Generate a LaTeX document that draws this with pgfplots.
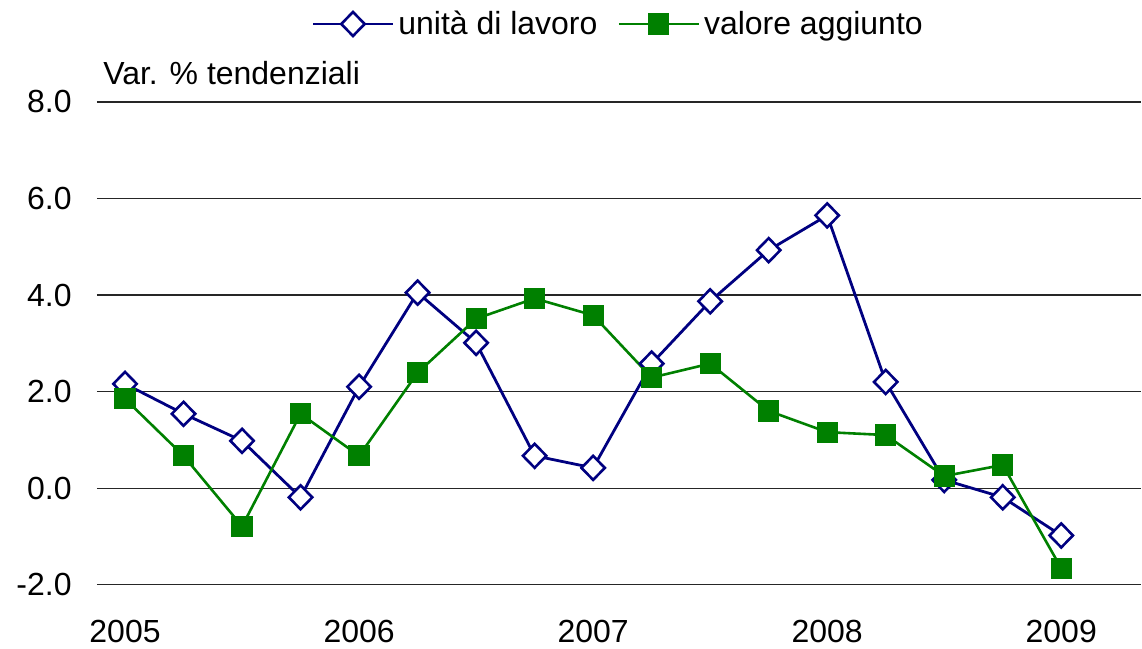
\documentclass[border=0pt]{standalone}
\usepackage{pgfplots}
\pgfplotsset{compat=1.18}
\usepackage{fontspec}
\setmainfont{Liberation Sans}
\definecolor{navyb}{HTML}{000080}
\definecolor{greenv}{HTML}{008000}
\begin{document}
\begin{tikzpicture}
\path (0,0) rectangle (571pt,324.5pt);
\begin{axis}[
  at={(48.5pt,32pt)}, anchor=south west,
  scale only axis, width=522.5pt, height=241.5pt,
  xmin=-0.48, xmax=17.37, ymin=-2, ymax=8,
  xtick={0,4,8,12,16}, xticklabels={2005,2006,2007,2008,2009},
  ytick={-2,0,2,4,6,8},
  ymajorgrids, grid style={black!85, line width=0.6pt},
  axis line style={draw=none},
  major tick length=0pt,
  font=\fontsize{16}{19}\selectfont,
  /pgf/number format/assume math mode=true,
  yticklabel={\pgfmathprintnumber[fixed,fixed zerofill,precision=1]{\tick}},
  yticklabel style={anchor=east, inner sep=0pt, xshift=-12.5pt},
  xticklabel style={anchor=north, inner sep=0pt, yshift=-17.5pt},
  legend style={at={(0.5,1)}, anchor=center, yshift=39pt, draw=none, fill=none,
    font=\fontsize{16}{19}\selectfont, legend columns=2,
    /tikz/every even column/.append style={column sep=8pt}},
  legend image code/.code={\draw[mark repeat=2,mark phase=2,#1] plot coordinates {(0pt,0pt) (20pt,0pt) (40pt,0pt)};},
  clip=false,
]
\addplot[navyb, line width=1.4pt, mark=diamond*, mark size=6pt,
  mark options={fill=white, line width=1.3pt, xscale=1.3}] coordinates {
(0,2.16) (1,1.54) (2,0.98) (3,-0.19) (4,2.10) (5,4.05) (6,3.01) (7,0.67) (8,0.42)
(9,2.58) (10,3.87) (11,4.93) (12,5.65) (13,2.20) (14,0.17) (15,-0.19) (16,-0.98)};
\addlegendentry{unità di lavoro}
\addplot[greenv, line width=1.3pt, mark=square*, mark size=5pt,
  mark options={fill=greenv, line width=0.6pt}] coordinates {
(0,1.85) (1,0.67) (2,-0.79) (3,1.54) (4,0.67) (5,2.39) (6,3.51) (7,3.93) (8,3.58)
(9,2.29) (10,2.58) (11,1.60) (12,1.16) (13,1.10) (14,0.25) (15,0.48) (16,-1.66)};
\addlegendentry{valore aggiunto}
\node[anchor=base west, inner sep=0pt, font=\fontsize{16}{19}\selectfont]
  at (rel axis cs:0,1) [xshift=3pt, yshift=8.5pt] {Var. \% tendenziali};
\end{axis}
\end{tikzpicture}
\end{document}
